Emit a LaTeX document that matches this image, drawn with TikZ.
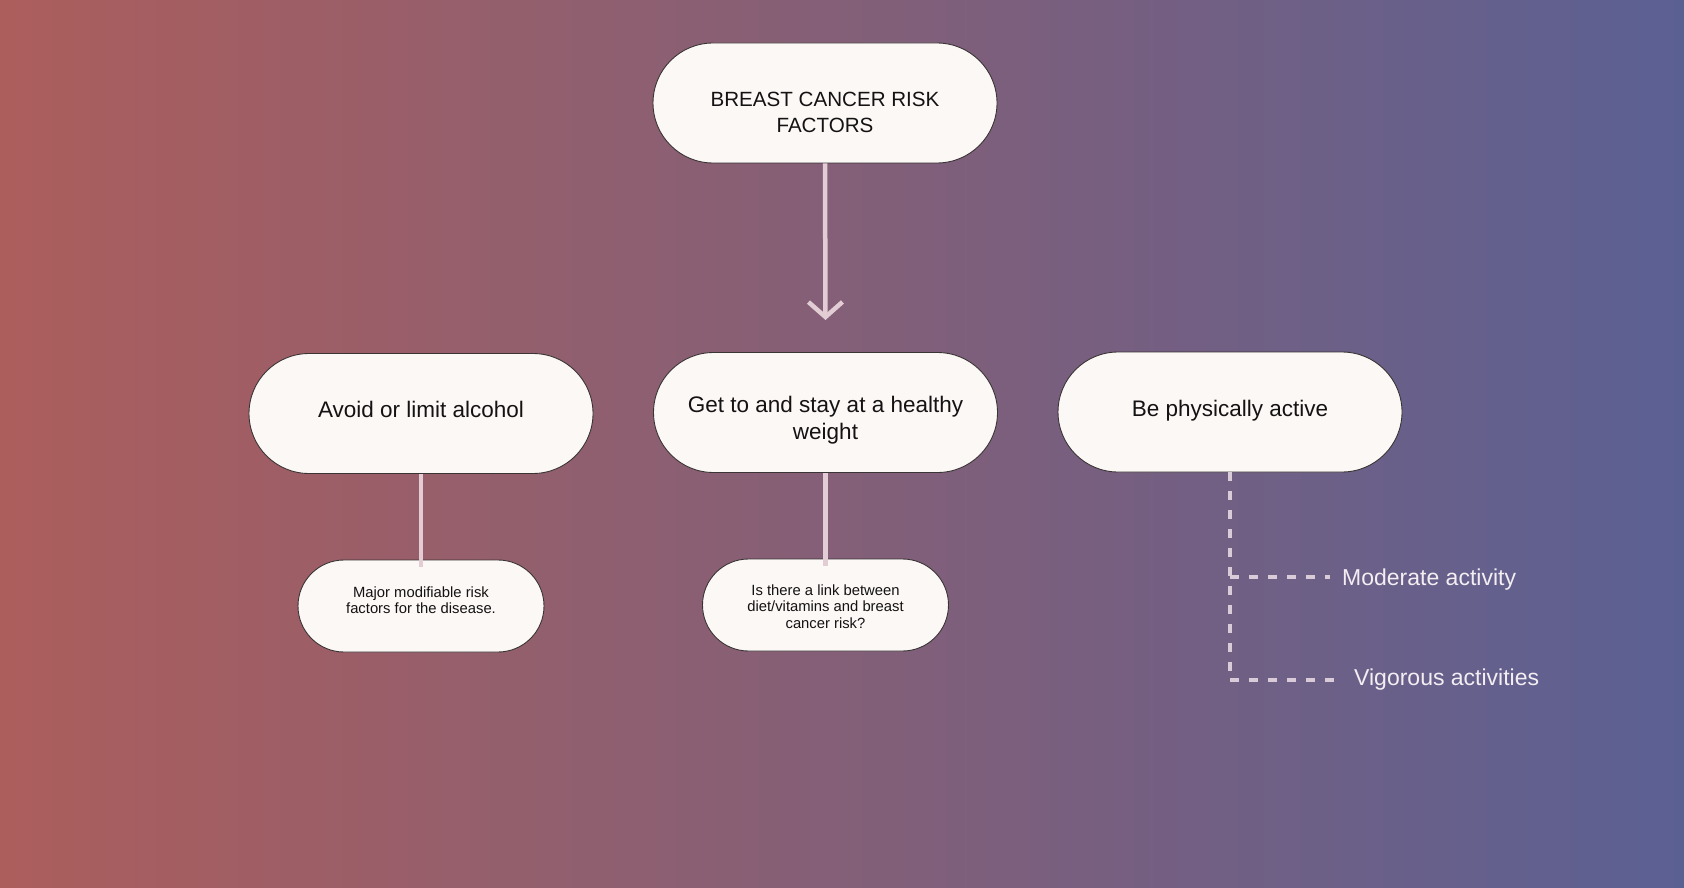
\documentclass[tikz,border=0pt]{standalone}
\usepackage{fontspec}
\setmainfont{Liberation Sans}
\usetikzlibrary{shapes.misc,arrows.meta}
\definecolor{bgl}{HTML}{AC5E5C}
\definecolor{bgr}{HTML}{5B6093}
\definecolor{nodefill}{HTML}{FBF8F6}
\definecolor{nodeedge}{HTML}{3A3434}
\definecolor{conn}{HTML}{E3CDD5}
\definecolor{dotc}{HTML}{D9CCD8}
\definecolor{lbl}{HTML}{F4EEF2}
\definecolor{ink}{HTML}{141212}
\begin{document}
\begin{tikzpicture}[x=1pt,y=-1pt,
  pill/.style={rounded rectangle, draw=nodeedge, line width=0.9pt, fill=nodefill, inner sep=0pt},
  bigpill/.style={pill, minimum width=344pt, minimum height=120pt},
  smallpill/.style={pill, minimum width=246pt, minimum height=92pt},
  bigtxt/.style={anchor=base, align=center, text=ink, inner sep=0pt, font=\fontsize{22.5}{27}\selectfont},
  toptxtstyle/.style={anchor=base, align=center, text=ink, inner sep=0pt, font=\fontsize{20.6}{26.3}\selectfont},
  smalltxt/.style={anchor=base, align=center, text=ink, inner sep=0pt, font=\fontsize{14.8}{16.5}\selectfont},
  sidetxt/.style={anchor=base west, text=lbl, inner ysep=0pt, font=\fontsize{23}{27}\selectfont},
  solidconn/.style={draw=conn, line width=4.5pt},
  dotconn/.style={draw=dotc, line width=4.2pt, dash pattern=on 9pt off 10pt}
]
\shade[left color=bgl, right color=bgr] (0,0) rectangle (1684,888);
\useasboundingbox (0,0) rectangle (1684,888);

\coordinate (tip) at (825.5,320);
\coordinate (cm) at (1230,577);
\coordinate (cv) at (1230,680);

\node[bigpill] (top) at (825,103) {};
\node[bigpill] (ln) at (421,413.5) {};
\node[bigpill] (mn) at (825.5,412.5) {};
\node[bigpill] (rn) at (1230,412) {};
\node[smallpill] (lc) at (421,606) {};
\node[smallpill] (mc) at (825.5,605) {};

\draw[solidconn, -{Straight Barb[length=15pt,width=34pt]}] (top.south) -- (tip);
\draw[solidconn] (ln.south) -- ([yshift=-7pt]lc.north);
\draw[solidconn] (mn.south) -- ([yshift=-7pt]mc.north);
\draw[dotconn] (rn.south) -- (cv);

% texts (base = baseline of last line)
\node[toptxtstyle] (toptxt) at (825,133) {BREAST CANCER RISK\\FACTORS};
\node[bigtxt] (lt) at (421,417) {Avoid or limit alcohol};
\node[bigtxt] (mt) at (825.5,439.5) {Get to and stay at a healthy\\weight};
\node[bigtxt] (rt) at (1230,416) {Be physically active};
\node[smalltxt] (lct) at (421,613.5) {Major modifiable risk\\factors for the disease.};
\node[smalltxt] (mct) at (825.5,628) {Is there a link between\\diet/vitamins and breast\\cancer risk?};

\node[sidetxt, inner xsep=12pt] (mod) at (1330,585) {Moderate activity};
\node[sidetxt, inner xsep=19pt] (vig) at (1335,685.7) {Vigorous activities};
\draw[dotconn] (cm) -- (cm -| mod.west);
\draw[dotconn] (cv) -- (cv -| vig.west);
\end{tikzpicture}
\end{document}
